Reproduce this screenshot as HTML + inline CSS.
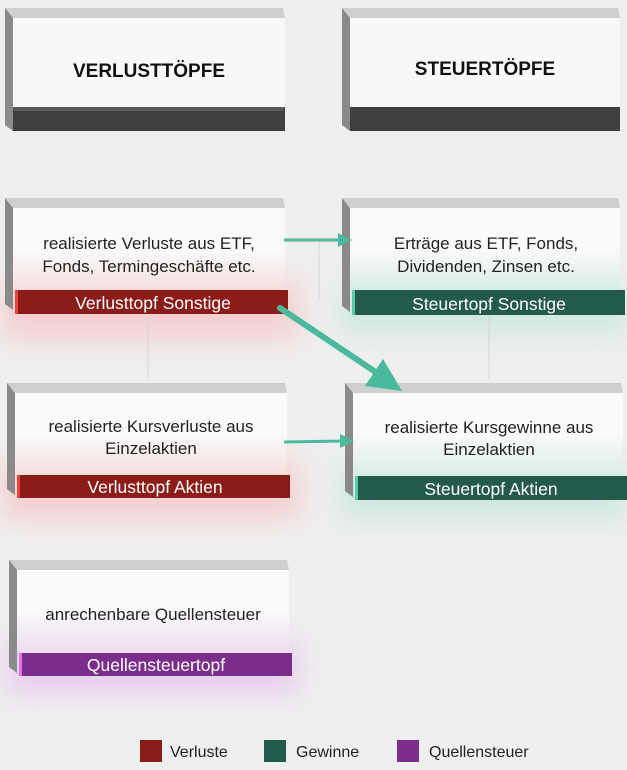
<!DOCTYPE html><html><head><meta charset="utf-8"><style>
body{margin:0;width:627px;height:770px;overflow:hidden;background:#efefef;font-family:"Liberation Sans",sans-serif}
</style></head><body>
<svg width="627" height="770" viewBox="0 0 627 770" xmlns="http://www.w3.org/2000/svg" style="position:absolute;left:0;top:0">
<defs>
<filter id="b" x="-50%" y="-50%" width="200%" height="200%"><feGaussianBlur stdDeviation="14"/></filter>
<linearGradient id="wr" x1="0" y1="0" x2="0" y2="1"><stop offset="0.5" stop-color="#fafafa"/><stop offset="1" stop-color="#f6dede"/></linearGradient>
<linearGradient id="wg" x1="0" y1="0" x2="0" y2="1"><stop offset="0.5" stop-color="#fafafa"/><stop offset="1" stop-color="#d9ece6"/></linearGradient>
<linearGradient id="wp" x1="0" y1="0" x2="0" y2="1"><stop offset="0.5" stop-color="#fafafa"/><stop offset="1" stop-color="#ecdcef"/></linearGradient>
</defs>
<rect width="627" height="770" fill="#efefef"/>
<rect x="0" y="280" width="300" height="60" fill="#f5c8c8" opacity="0.8" filter="url(#b)"/>
<rect x="0" y="460" width="300" height="60" fill="#f5c8c8" opacity="0.8" filter="url(#b)"/>
<rect x="340" y="285" width="287" height="50" fill="#c6e6dc" opacity="0.8" filter="url(#b)"/>
<rect x="340" y="465" width="287" height="55" fill="#c6e6dc" opacity="0.8" filter="url(#b)"/>
<rect x="5" y="640" width="295" height="55" fill="#e6c6ec" opacity="0.8" filter="url(#b)"/>
<line x1="319" y1="240" x2="319" y2="300" stroke="#d4d4d4"/>
<line x1="148" y1="315" x2="148" y2="378" stroke="#d4d4d4"/>
<line x1="489" y1="315" x2="489" y2="378" stroke="#d4d4d4"/>

<polygon points="5,8 283,8 285,18 13,18" fill="#cfcfcf"/>
<polygon points="5,8 13,18 13,131 5,125" fill="#8a8a8a"/>
<rect x="13" y="18" width="272" height="89" fill="#f8f8f8"/>
<rect x="13" y="107" width="272" height="24" fill="#404040"/>
<polygon points="13,107 285,107 283,111 13,111" fill="#5a5a5a"/>
<polygon points="342,8 618,8 620,18 350,18" fill="#cfcfcf"/>
<polygon points="342,8 350,18 350,131 342,125" fill="#8a8a8a"/>
<rect x="350" y="18" width="270" height="89" fill="#f8f8f8"/>
<rect x="350" y="107" width="270" height="24" fill="#404040"/>

<polygon points="5,198 283,198 285,208 13,208" fill="#cfcfcf"/>
<polygon points="5,198 13,208 13,310 5,304" fill="#8a8a8a"/>
<rect x="13" y="208" width="272" height="82" fill="url(#wr)"/>
<rect x="15" y="290" width="273" height="24" fill="#8b1c17"/>
<rect x="15" y="290" width="3" height="24" fill="#e8423a"/>
<polygon points="342,198 618,198 620,208 350,208" fill="#cfcfcf"/>
<polygon points="342,198 350,208 350,312 342,306" fill="#8a8a8a"/>
<rect x="350" y="208" width="270" height="82" fill="url(#wg)"/>
<rect x="352" y="290" width="273" height="25" fill="#235a4b"/>
<rect x="352" y="290" width="3" height="25" fill="#5cc9ad"/>
<polygon points="7,383 285,383 287,393 15,393" fill="#cfcfcf"/>
<polygon points="7,383 15,393 15,495 7,489" fill="#8a8a8a"/>
<rect x="15" y="393" width="272" height="82" fill="url(#wr)"/>
<rect x="17" y="475" width="273" height="23" fill="#8b1c17"/>
<rect x="17" y="475" width="3" height="23" fill="#e8423a"/>
<polygon points="345,383 621,383 623,393 353,393" fill="#cfcfcf"/>
<polygon points="345,383 353,393 353,497 345,491" fill="#8a8a8a"/>
<rect x="353" y="393" width="270" height="83" fill="url(#wg)"/>
<rect x="355" y="476" width="272" height="24" fill="#235a4b"/>
<rect x="355" y="476" width="3" height="24" fill="#5cc9ad"/>
<polygon points="9,560 287,560 289,570 17,570" fill="#cfcfcf"/>
<polygon points="9,560 17,570 17,673 9,667" fill="#8a8a8a"/>
<rect x="17" y="570" width="272" height="83" fill="url(#wp)"/>
<rect x="19" y="653" width="273" height="23" fill="#7b2d8b"/>
<rect x="19" y="653" width="3" height="23" fill="#e070f0"/>

<g stroke="#4bb99b" fill="#4bb99b">
<line x1="284" y1="240" x2="342" y2="240" stroke-width="3"/>
<polygon points="352,240 338,233 338,247" stroke="none"/>
<line x1="284" y1="442" x2="344" y2="441" stroke-width="3"/>
<polygon points="354,441 340,434 340,448" stroke="none"/>
<line x1="280" y1="308" x2="380" y2="375" stroke-width="6" stroke-linecap="round"/>
<polygon points="402,391 365,386 383,359" stroke="none"/>
</g>

<rect x="140" y="740" width="22" height="22" fill="#8b1c17"/>
<rect x="264" y="740" width="22" height="22" fill="#235a4b"/>
<rect x="397" y="740" width="22" height="22" fill="#7b2d8b"/>

<g font-family="Liberation Sans, sans-serif" text-anchor="middle">
<text x="149" y="77" font-size="19" font-weight="bold" fill="#111">VERLUSTTÖPFE</text>
<text x="485" y="75" font-size="19" font-weight="bold" fill="#111">STEUERTÖPFE</text>
<g font-size="17" fill="#222">
<text x="149" y="249">realisierte Verluste aus ETF,</text>
<text x="149" y="272">Fonds, Termingeschäfte etc.</text>
<text x="486" y="249">Erträge aus ETF, Fonds,</text>
<text x="486" y="272">Dividenden, Zinsen etc.</text>
<text x="151" y="432">realisierte Kursverluste aus</text>
<text x="151" y="454">Einzelaktien</text>
<text x="489" y="433">realisierte Kursgewinne aus</text>
<text x="489" y="455">Einzelaktien</text>
<text x="153" y="620">anrechenbare Quellensteuer</text>
</g>
<g font-size="17.5" fill="#fff">
<text x="153" y="309">Verlusttopf Sonstige</text>
<text x="489" y="310">Steuertopf Sonstige</text>
<text x="155" y="493">Verlusttopf Aktien</text>
<text x="491" y="495">Steuertopf Aktien</text>
<text x="156" y="671">Quellensteuertopf</text>
</g>
</g>
<g font-family="Liberation Sans, sans-serif" font-size="16" fill="#222">
<text x="170" y="757">Verluste</text>
<text x="296" y="757">Gewinne</text>
<text x="429" y="757">Quellensteuer</text>
</g>
</svg>
</body></html>
